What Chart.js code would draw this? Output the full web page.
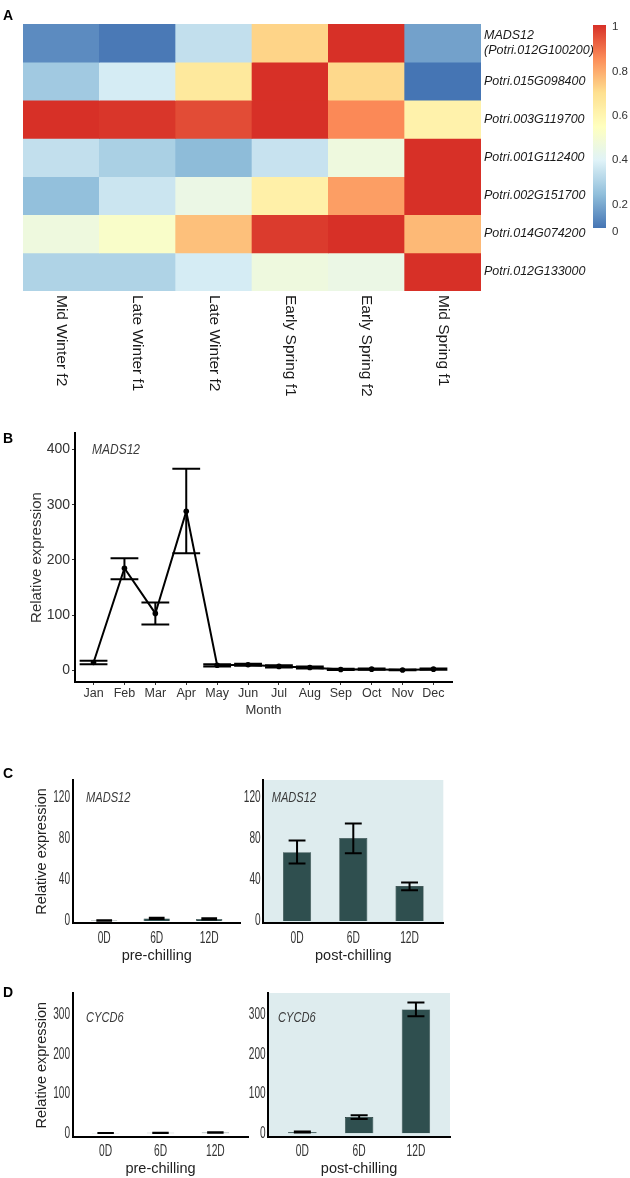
<!DOCTYPE html>
<html><head><meta charset="utf-8">
<script src="https://cdn.jsdelivr.net/npm/chart.js@4.4.0/dist/chart.umd.min.js"></script>
<style>
html,body{margin:0;padding:0;background:#fff;}
#wrap{position:relative;width:630px;height:1178px;overflow:hidden;background:#fff;}
canvas{position:absolute;}
.pl{position:absolute;font:bold 14px "Liberation Sans",Arial,sans-serif;line-height:16px;color:#000;}
</style></head><body>
<div id="wrap">
<canvas id="cA" width="630" height="410" style="left:0;top:0"></canvas>
<canvas id="cB" width="470" height="305" style="left:0;top:420px"></canvas>
<canvas id="cC1" width="250" height="200" style="left:0;top:770px"></canvas>
<canvas id="cC2" width="210" height="200" style="left:240px;top:770px"></canvas>
<canvas id="cD1" width="258" height="193" style="left:0;top:985px"></canvas>
<canvas id="cD2" width="210" height="193" style="left:245px;top:985px"></canvas>
<div class="pl" style="left:3px;top:7px">A</div>
<div class="pl" style="left:3px;top:430px">B</div>
<div class="pl" style="left:3px;top:765px">C</div>
<div class="pl" style="left:3px;top:984px">D</div>
</div>
<script>
// ---------- DATA ----------
const samples = ['Mid Winter f2','Late Winter f1','Late Winter f2','Early Spring f1','Early Spring f2','Mid Spring f1'];
const geneNames = [['MADS12','(Potri.012G100200)'],'Potri.015G098400','Potri.003G119700','Potri.001G112400','Potri.002G151700','Potri.014G074200','Potri.012G133000'];
const heatMADS12   = [0.05, 0.01, 0.27, 0.69, 1.00, 0.10];
const heat015G0984 = [0.20, 0.31, 0.62, 1.00, 0.68, 0.00];
const heat003G1197 = [1.00, 0.99, 0.95, 1.00, 0.84, 0.57];
const heat001G1124 = [0.27, 0.22, 0.16, 0.28, 0.41, 1.00];
const heat002G1517 = [0.17, 0.29, 0.39, 0.58, 0.80, 1.00];
const heat014G0742 = [0.41, 0.47, 0.73, 0.98, 1.00, 0.745];
const heat012G1330 = [0.23, 0.23, 0.31, 0.41, 0.39, 1.00];
const heatRows = [heatMADS12, heat015G0984, heat003G1197, heat001G1124, heat002G1517, heat014G0742, heat012G1330];
const colorTicks = [0, 0.2, 0.4, 0.6, 0.8, 1];

const months = ['Jan','Feb','Mar','Apr','May','Jun','Jul','Aug','Sep','Oct','Nov','Dec'];
const bMean = [14, 185, 103, 288, 9, 10, 7, 5, 1.3, 2, 0.5, 2];
const bLow  = [11, 165, 83, 212, 7, 8, 5, 3, 0.3, 1, 0, 1];
const bHigh = [17, 203, 123, 365, 11, 12, 9, 7, 2.5, 3, 1.5, 3];
const bTicks = [0, 100, 200, 300, 400];

const days = ['0D','6D','12D'];
const cPreMean = [0.5, 2.5, 2], cPreLow = [0.2, 2, 1.5], cPreHigh = [0.8, 3.2, 2.7];
const cPostMean = [67, 81, 34], cPostLow = [56, 66, 30], cPostHigh = [78.5, 95, 37.5];
const dPreMean = [0.5, 1, 2], dPreLow = [0.2, 0.6, 1.4], dPreHigh = [0.8, 1.4, 2.6];
const dPostMean = [3, 41, 314], dPostLow = [1.5, 36, 297], dPostHigh = [4.5, 45.5, 332];
const cTicks = [0, 40, 80, 120];
const dTicks = [0, 100, 200, 300];

// ---------- STYLE ----------
const FONT = '"Liberation Sans", Arial, sans-serif';
const pal = ['#4575B4','#91BFDB','#E0F3F8','#FFFFBF','#FEE090','#FC8D59','#D73027'];
function hex2rgb(h){return [1,3,5].map(i=>parseInt(h.substr(i,2),16));}
function heatColor(v){
  const t = Math.max(0, Math.min(1, v)) * (pal.length - 1);
  const i = Math.min(Math.floor(t), pal.length - 2), f = t - i;
  const a = hex2rgb(pal[i]), b = hex2rgb(pal[i+1]);
  const c = a.map((x,k)=>Math.round(x + (b[k]-x)*f));
  return `rgb(${c[0]},${c[1]},${c[2]})`;
}
Chart.defaults.font.family = FONT;
// horizontally condensed text (the figure's narrow typeface)
function condText(ctx, text, x, y, sx, align){
  ctx.save(); ctx.translate(x, y); ctx.scale(sx, 1); ctx.textAlign = align; ctx.fillText(text, 0, 0); ctx.restore();
}

// ---------- A: heatmap ----------
const heatLabels = {
  id:'heatLabels',
  afterDraw(chart){
    const {ctx, chartArea:ca} = chart; const xs = chart.scales.x, ys = chart.scales.y;
    ctx.save();
    ctx.fillStyle = '#1a1a1a';
    ctx.font = `15.5px ${FONT}`; ctx.textAlign = 'left'; ctx.textBaseline = 'middle';
    samples.forEach((s,i)=>{
      ctx.save(); ctx.translate(xs.getPixelForValue(i), ca.bottom + 4); ctx.rotate(Math.PI/2);
      ctx.fillText(s, 0, 0); ctx.restore();
    });
    ctx.font = `italic 12.5px ${FONT}`;
    geneNames.forEach((g,i)=>{
      const y = ys.getPixelForValue(i + 0.5);
      if (Array.isArray(g)) { ctx.fillText(g[0], ca.right + 3, y - 8); ctx.fillText(g[1], ca.right + 3, y + 7); }
      else ctx.fillText(g, ca.right + 3, y);
    });
    // colour key
    const cx = ca.right + 112, cw = 13, ct = ca.top + 1, chh = 203;
    const grad = ctx.createLinearGradient(0, ct, 0, ct + chh);
    for (let k = 0; k <= 60; k++) grad.addColorStop(k/60, heatColor(1 - k/60));
    ctx.fillStyle = grad; ctx.fillRect(cx, ct, cw, chh);
    ctx.fillStyle = '#333'; ctx.font = `11.5px ${FONT}`;
    colorTicks.forEach(v=>{
      const y = Math.min(ct + 2 + (1 - v) * 222, ct + chh + 3.5);
      ctx.fillText(String(v), cx + 19, y);
    });
    ctx.restore();
  }
};
new Chart(document.getElementById('cA'), {
  type:'bar',
  data:{labels: samples, datasets: heatRows.map((row,gi)=>({
    label: Array.isArray(geneNames[gi]) ? geneNames[gi].join(' ') : geneNames[gi],
    data: row.map(()=>[gi, gi+1]),
    backgroundColor: row.map(heatColor), borderWidth:0, barPercentage:1, categoryPercentage:1, grouped:false
  }))},
  options:{responsive:false, animation:false, devicePixelRatio:1, events:[],
    layout:{padding:{left:23, top:24, right:149, bottom:119}},
    plugins:{legend:{display:false}, tooltip:{enabled:false}},
    scales:{x:{display:false}, y:{display:false, min:0, max:7, reverse:true}}},
  plugins:[heatLabels]
});

// ---------- helpers ----------
function errPlugin(low, high, half, width){
  return {id:'errbars', afterDatasetsDraw(chart){
    const {ctx} = chart; const xs = chart.scales.x, ys = chart.scales.y;
    ctx.save(); ctx.strokeStyle = '#000'; ctx.lineWidth = width; ctx.lineCap = 'butt';
    low.forEach((lo,i)=>{
      const x = xs.getPixelForValue(i), x0 = xs.getPixelForValue(i-half), x1 = xs.getPixelForValue(i+half);
      const yl = ys.getPixelForValue(lo), yh = ys.getPixelForValue(high[i]);
      ctx.beginPath(); ctx.moveTo(x,yl); ctx.lineTo(x,yh);
      ctx.moveTo(x0,yl); ctx.lineTo(x1,yl); ctx.moveTo(x0,yh); ctx.lineTo(x1,yh); ctx.stroke();
    });
    ctx.restore();
  }};
}
function tagPlugin(text, dx, yValue, sx){
  return {id:'tag', afterDraw(chart){
    const {ctx, chartArea:ca} = chart; const y = chart.scales.y.getPixelForValue(yValue);
    ctx.save(); ctx.font = `italic 15px ${FONT}`; ctx.fillStyle = '#3a3a3a'; ctx.textBaseline = 'middle';
    condText(ctx, text, ca.left + dx, y, sx, 'left'); ctx.restore();
  }};
}
function shadePlugin(color){
  return {id:'shade', beforeDraw(chart){
    const {ctx, chartArea:ca} = chart; ctx.save(); ctx.fillStyle = color;
    ctx.fillRect(ca.left, ca.top, ca.right - ca.left, ca.bottom - ca.top); ctx.restore();
  }};
}
function narrowTicks(xOff){
  return {id:'narrowTicks', afterDraw(chart){
    const {ctx, chartArea:ca} = chart; const xs = chart.scales.x, ys = chart.scales.y;
    ctx.save(); ctx.fillStyle = '#333'; ctx.textBaseline = 'middle';
    ctx.font = `16px ${FONT}`;
    ys.ticks.forEach(t=>condText(ctx, String(t.value), ca.left - 2.7, ys.getPixelForValue(t.value), 0.63, 'right'));
    ctx.font = `16.5px ${FONT}`;
    xs.ticks.forEach(t=>condText(ctx, days[t.value], xs.getPixelForValue(t.value), ca.bottom + xOff, 0.62, 'center'));
    ctx.restore();
  }};
}

// ---------- B: monthly line ----------
new Chart(document.getElementById('cB'), {
  type:'line',
  data:{datasets:[{data: months.map((m,i)=>({x:i, y:bMean[i]})), borderColor:'#000', borderWidth:2,
    pointRadius:2.8, pointBackgroundColor:'#000', pointBorderWidth:0, tension:0}]},
  options:{responsive:false, animation:false, devicePixelRatio:1, events:[],
    layout:{padding:{top:13, right:18, left:0, bottom:0}},
    plugins:{legend:{display:false}, tooltip:{enabled:false}},
    scales:{
      x:{type:'linear', min:-0.6, max:11.6,
        afterBuildTicks:s=>{s.ticks = months.map((m,i)=>({value:i}));},
        ticks:{callback:v=>months[v], font:{size:12.5}, color:'#333', padding:1.3, maxRotation:0, autoSkip:false},
        grid:{display:true, drawOnChartArea:false, drawTicks:true, tickLength:3, color:'#333'},
        border:{display:true, color:'#000', width:2},
        title:{display:true, text:'Month', font:{size:13}, color:'#333', padding:{top:0, bottom:7}},
        afterFit:s=>{s.height = 43;}},
      y:{min:-21.3, max:430,
        afterBuildTicks:s=>{s.ticks = bTicks.map(v=>({value:v}));},
        ticks:{font:{size:14}, color:'#333', padding:2},
        grid:{display:true, drawOnChartArea:false, drawTicks:true, tickLength:3, color:'#333'},
        border:{display:true, color:'#000', width:2},
        title:{display:true, text:'Relative expression', font:{size:15}, color:'#333', padding:{top:28, bottom:0}},
        afterFit:s=>{s.width = 75;}}
    }},
  plugins:[errPlugin(bLow, bHigh, 0.45, 2), tagPlugin('MADS12', 17, 400, 0.8)]
});

// ---------- C/D: bar panels ----------
function barPanel(id, mean, low, high, o){
  const plugins = [errPlugin(low, high, 0.15, 2), tagPlugin(o.tag, o.tagDx, o.tagValue, 0.74), narrowTicks(o.xLabOff)];
  if (o.shade) plugins.unshift(shadePlugin('#deecee'));
  return new Chart(document.getElementById(id), {
    type:'bar',
    data:{datasets:[{data: mean.map((v,i)=>({x:i, y:v})), backgroundColor:'#2f4f4f', borderColor:'#1b2f2f',
      borderWidth:0.6, barPercentage:0.5, categoryPercentage:1}]},
    options:{responsive:false, animation:false, devicePixelRatio:1, events:[],
      layout:{padding:{top:o.padTop, right:o.padRight, left:0, bottom:0}},
      plugins:{legend:{display:false}, tooltip:{enabled:false}},
      scales:{
        x:{type:'linear', offset:false, min:-0.6, max:2.6,
          afterBuildTicks:s=>{s.ticks = days.map((d,i)=>({value:i}));},
          ticks:{display:false},
          grid:{display:false}, border:{display:true, color:'#000', width:2},
          title:{display:true, text:o.xTitle, font:{size:14.5}, color:'#222', padding:{top:0, bottom:o.xTitlePad}},
          afterFit:s=>{s.height = o.xHeight;}},
        y:{min:o.ymin, max:o.ymax,
          afterBuildTicks:s=>{s.ticks = o.ticks.map(v=>({value:v}));},
          ticks:{display:false},
          grid:{display:false}, border:{display:true, color:'#000', width:2},
          title:{display:!!o.yTitle, text:o.yTitle || '', font:{size:14.5}, color:'#222', padding:{top:33.3, bottom:0}},
          afterFit:s=>{s.width = o.yWidth;}}
      }},
    plugins
  });
}
barPanel('cC1', cPreMean, cPreLow, cPreHigh, {padTop:10, padRight:9.3, yWidth:72.7, xHeight:47, xLabOff:15, xTitlePad:5,
  xTitle:'pre-chilling', yTitle:'Relative expression', ymin:-2, ymax:137.5, ticks:cTicks, tag:'MADS12', tagDx:13.3, tagValue:120});
barPanel('cC2', cPostMean, cPostLow, cPostHigh, {padTop:10, padRight:6.7, yWidth:23.3, xHeight:47, xLabOff:15, xTitlePad:5,
  xTitle:'post-chilling', ymin:-2, ymax:137.5, ticks:cTicks, tag:'MADS12', tagDx:8.4, tagValue:120, shade:true});
barPanel('cD1', dPreMean, dPreLow, dPreHigh, {padTop:8, padRight:9.7, yWidth:72.7, xHeight:40.7, xLabOff:14.4, xTitlePad:0,
  xTitle:'pre-chilling', yTitle:'Relative expression', ymin:-10.4, ymax:355.8, ticks:dTicks, tag:'CYCD6', tagDx:13.3, tagValue:292});
barPanel('cD2', dPostMean, dPostLow, dPostHigh, {padTop:8, padRight:5, yWidth:23.3, xHeight:40.7, xLabOff:14.4, xTitlePad:0,
  xTitle:'post-chilling', ymin:-10.4, ymax:355.8, ticks:dTicks, tag:'CYCD6', tagDx:9.7, tagValue:292, shade:true});
</script>
</body></html>
